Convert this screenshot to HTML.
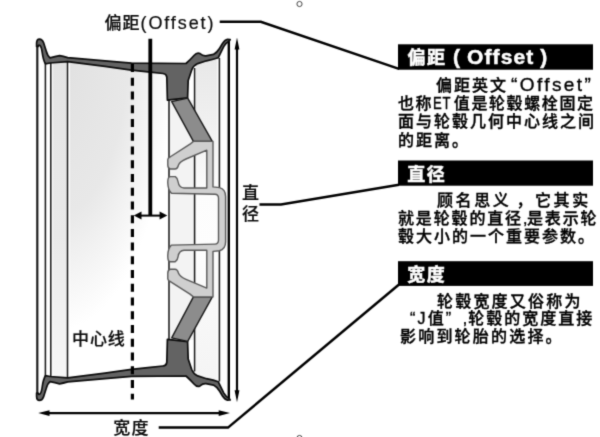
<!DOCTYPE html>
<html lang="zh-CN">
<head>
<meta charset="utf-8">
<title>轮毂参数：偏距 直径 宽度</title>
<style>
  html, body { margin: 0; padding: 0; background: #fff; }
  body { width: 600px; height: 437px; overflow: hidden; position: relative;
         font-family: "Liberation Sans", "Noto Sans CJK SC", sans-serif; color: #000; }
  #page { position: absolute; left: 0; top: 0; width: 600px; height: 437px; overflow: hidden; background: #fff; filter: url(#soft); }
  svg { position: absolute; left: 0; top: 0; display: block; }
  .h { position: absolute; color: #fff; font-weight: 700; font-size: 18px; line-height: 24px;
       letter-spacing: 1.5px; white-space: nowrap; -webkit-text-stroke: 0.5px #fff; }
  .h .en { font-size: 21px; letter-spacing: 1.1px; word-spacing: -1px; }
  .t { position: absolute; font-size: 16px; line-height: 20px; height: 20px; font-weight: 500;
       letter-spacing: 2px; white-space: nowrap; color: #000; -webkit-text-stroke: 0.35px #000; }
  .t .en { letter-spacing: 3.3px; }
  .t .et { display: inline-block; width: 20.6px; transform: scaleX(0.82); transform-origin: 0 50%; letter-spacing: 1px; }
  .l { position: absolute; font-size: 17px; line-height: 20px; height: 20px; font-weight: 500;
       letter-spacing: 1px; white-space: nowrap; color: #0a0a0a; -webkit-text-stroke: 0.2px #0a0a0a; }
  .l .en { font-size: 18px; letter-spacing: 1.9px; }
</style>
</head>
<body>
<div id="page">
<svg width="600" height="437" viewBox="0 0 600 437">
  <defs>
    <filter id="soft" x="0" y="0" width="100%" height="100%" color-interpolation-filters="sRGB">
      <feConvolveMatrix order="3" kernelMatrix="1 5 1 5 25 5 1 5 1" edgeMode="duplicate" preserveAlpha="true"/>
    </filter>
    <radialGradient id="gl" gradientUnits="userSpaceOnUse" cx="0" cy="0" r="1" gradientTransform="translate(60 40) scale(115 290)">
      <stop offset="0" stop-color="#e0e0e0"/>
      <stop offset="0.6" stop-color="#e8e8e8"/>
      <stop offset="1" stop-color="#ffffff"/>
    </radialGradient>
    <linearGradient id="gb" x1="0" x2="0" y1="0" y2="1">
      <stop offset="0" stop-color="#e4e4e4"/>
      <stop offset="0.55" stop-color="#e9e9e9"/>
      <stop offset="1" stop-color="#f7f7f7"/>
    </linearGradient>
    <linearGradient id="gr" x1="0" x2="0" y1="0" y2="1">
      <stop offset="0" stop-color="#e8e8e8"/>
      <stop offset="0.2" stop-color="#f0f0f0"/>
      <stop offset="0.4" stop-color="#fcfcfc"/>
      <stop offset="0.6" stop-color="#fdfdfd"/>
      <stop offset="0.8" stop-color="#f8f8f8"/>
      <stop offset="1" stop-color="#f4f4f4"/>
    </linearGradient>
    <g id="half">
      <path d="M36.6 46.5 L36.6 43 Q36.7 39.2 39.4 39.1 Q42.4 39.2 43.6 42.8 L46.2 51 Q47.6 56 50 57.9 Q55 56.8 59.6 55.7 Q63 56.3 67.7 57.6 L105 60.9 L131.5 63.1 L186 63.5 Q190.5 59.5 194 55.5 Q197 52 200 53.6 Q203 56.2 206 55.8 L213.5 54.4 Q217 52.5 219.5 48.5 L222.5 43.5 Q225 39.7 227.5 39.4 L230.2 39.5 L229.2 41 Q225.9 42.8 223.7 46.7 L218.3 57.7 Q214 59.3 206.5 60.8 L197.7 63.6 Q193.5 65.5 191.7 70 L188.2 80.5 L187.6 97.8 L167.4 100.2 L166.8 77 Q166.3 73.9 163 73.5 L150.3 72.2 L131.5 70.2 L105 66.4 L67.7 61.6 L50.1 63 L45.4 63.8 Q43.2 60 42.3 53 Q41.5 46.8 39.8 45.4 Q38.4 44.6 38.1 46.5 Z" fill="#636363" stroke="#0c0c0c" stroke-width="1.7" stroke-linejoin="round"/>
    </g>
  </defs>

  <!-- light grey barrel interior -->
  <rect x="53" y="62" width="13.5" height="316" fill="url(#gb)"/>
  <rect x="170" y="100" width="24" height="240" fill="#f3f3f3"/>
  <rect x="70" y="62" width="97" height="316" fill="url(#gl)"/>
  <rect x="196" y="60" width="21" height="320" fill="url(#gr)"/>

  <!-- vertical construction lines -->
  <g stroke="#1c1c1c" stroke-width="1.55" fill="none">
    <line x1="37.3" y1="44" x2="37.3" y2="395.5" stroke-width="2.2"/>
    <line x1="45.4" y1="62" x2="45.4" y2="377.5"/>
    <line x1="50.8" y1="62" x2="50.8" y2="377.5"/>
    <line x1="67.5" y1="60" x2="67.5" y2="379.5"/>
    <line x1="169" y1="98" x2="169" y2="341.5"/>
    <line x1="194.6" y1="68" x2="194.6" y2="371.5"/>
    <line x1="219.4" y1="58" x2="219.4" y2="381.5"/>
    <line x1="228.8" y1="40.5" x2="228.8" y2="398.5" stroke="#000" stroke-width="2.4"/>
  </g>

  <use href="#half"/>
  <use href="#half" transform="translate(0 439.5) scale(1 -1)"/>
  <path d="M171.7 101.6 L187.7 98.1 L212.3 141.4 L193.4 141.4 Z" fill="#8c8c8c" stroke="#1a1a1a" stroke-width="1.4" stroke-linejoin="round"/>
  <path d="M171.7 337.9 L187.7 341.4 L212.3 296.9 L193.4 296.9 Z" fill="#8c8c8c" stroke="#1a1a1a" stroke-width="1.4" stroke-linejoin="round"/>
  <path d="M225.6 219.75 L225.6 196.5 Q225.6 189 219.4 187.6 L213 186.9 L213 141.4 L193.4 141.4 L190 144.2 L170 157 Q168 157.8 167.8 159.5 L167.8 165 Q167.8 168.5 170.3 169 L175 169 Q177.5 169 178.5 165 Q180 161.5 186 159 L206.8 150.2 L206.8 188 L184 188 Q179 187.8 178 181.5 Q177.6 178 175.3 176.6 L170 176.6 Q167.6 177 167.8 183 Q168 190 171.5 193.2 L215 194.2 Q218.3 194.3 218.5 198 L218.5 219.75 L218.5 240.3 Q218.3 244 215 244.1 L171.5 245.1 Q168 248.3 167.8 255.3 Q167.6 261.3 170 261.7 L175.3 261.7 Q177.6 260.3 178 256.8 Q179 250.5 184 250.3 L206.8 250.3 L206.8 288.1 L186 279.3 Q180 276.8 178.5 273.3 Q177.5 269.3 175 269.3 L170.3 269.3 Q167.8 269.8 167.8 273.3 L167.8 278.8 Q168 280.5 170 281.3 L190 294.1 L193.4 296.9 L213 296.9 L213 251.4 L219.4 250.7 Q225.6 249.3 225.6 241.8 L225.6 218.55 Z" fill="#cfcfcf" stroke="#5a5a5a" stroke-width="1.4" stroke-linejoin="round"/>

  <!-- centre line (dashed) -->
  <line x1="132.4" y1="64" x2="132.4" y2="399.5" stroke="#000" stroke-width="3.2" stroke-dasharray="8 5.74"/>

  <!-- offset line -->
  <line x1="150.3" y1="38.8" x2="150.3" y2="215.6" stroke="#000" stroke-width="3.8"/>
  <line x1="138" y1="215.6" x2="163" y2="215.6" stroke="#000" stroke-width="2"/>
  <path d="M133.8 215.6 L141.5 211.6 L141.5 219.6 Z M167.3 215.6 L159.6 211.6 L159.6 219.6 Z" fill="#000"/>

  <!-- diameter arrow -->
  <line x1="237" y1="46" x2="237" y2="394" stroke="#000" stroke-width="2.2"/>
  <path d="M237 37.6 L234.6 49.5 L239.4 49.5 Z M237 402.2 L234.6 390.3 L239.4 390.3 Z" fill="#000"/>

  <!-- width arrow -->
  <line x1="46" y1="413.1" x2="222" y2="413.1" stroke="#000" stroke-width="2.4"/>
  <path d="M38.2 413.1 L49.5 410.3 L49.5 415.9 Z M230 413.1 L218.7 410.3 L218.7 415.9 Z" fill="#000"/>

  <!-- header bars -->
  <rect x="398" y="44.3" width="195" height="25.4" fill="#000"/>
  <rect x="398" y="160.5" width="195" height="25.2" fill="#000"/>
  <rect x="398" y="261.2" width="195" height="24.7" fill="#000"/>

  <!-- leader lines -->
  <g stroke="#000" stroke-width="2.5" fill="none" stroke-linejoin="miter">
    <polyline points="219.7,21.7 260.8,21.7 399,68.9"/>
    <polyline points="259.5,204.5 281,204.5 399,184.8"/>
    <polyline points="158.7,427.6 228,427.6 399,284.5"/>
  </g>

  <!-- tiny handles -->
  <circle cx="299.5" cy="4" r="2.6" fill="#fff" stroke="#333" stroke-width="0.9"/>
  <circle cx="299.5" cy="438" r="2.6" fill="#fff" stroke="#333" stroke-width="0.9"/>
</svg>

<div class="l" id="t1" style="left:104.5px; top:12.5px">偏距<span class="en">(Offset)</span></div>
<div class="l" id="t2a" style="left:242px; top:184px">直</div>
<div class="l" id="t2b" style="left:242px; top:204.5px">径</div>
<div class="l" id="t3" style="left:72px; top:330.3px; letter-spacing:0.9px">中心线</div>
<div class="l" id="t4" style="left:113.3px; top:419.3px; letter-spacing:1.2px">宽度</div>

<div class="h" id="h1" style="left:407.5px; top:44.6px">偏距 <span class="en">( Offset )</span></div>
<div class="t" id="b1l1" style="left:436px; top:74.5px">偏距英文<span class="en" style="font-size:19px; letter-spacing:2.4px; margin-left:3px">“Offset”</span></div>
<div class="t" id="b1l2" style="left:398px; top:94.4px; letter-spacing:1.6px">也称<span class="et">ET</span>值是轮毂螺栓固定</div>
<div class="t" id="b1l3" style="left:398px; top:111.6px">面与轮毂几何中心线之间</div>
<div class="t" id="b1l4" style="left:398px; top:130.5px">的距离。</div>

<div class="h" id="h2" style="left:407.2px; top:162.5px">直径</div>
<div class="t" id="b2l1" style="left:437px; top:191px; letter-spacing:2.6px">顾名思义<span style="margin-left:5px">，</span>它其实</div>
<div class="t" id="b2l2" style="left:398px; top:209.2px; letter-spacing:1.85px">就是轮毂的直径<span style="letter-spacing:-0.4px">,</span>是表示轮</div>
<div class="t" id="b2l3" style="left:398px; top:226.6px">毂大小的一个重要参数。</div>

<div class="h" id="h3" style="left:407.2px; top:262.5px">宽度</div>
<div class="t" id="b3l1" style="left:437px; top:291.6px; letter-spacing:2.2px">轮毂宽度又俗称为</div>
<div class="t" id="b3l2" style="left:410px; top:308.7px"><span class="en" style="letter-spacing:2.2px">“J</span>值<span class="en">”</span><span style="margin-left:8.3px; letter-spacing:1px">,</span>轮毂的宽度直接</div>
<div class="t" id="b3l3" style="left:400px; top:327px; letter-spacing:2.2px">影响到轮胎的选择。</div>
</div>
</body>
</html>
